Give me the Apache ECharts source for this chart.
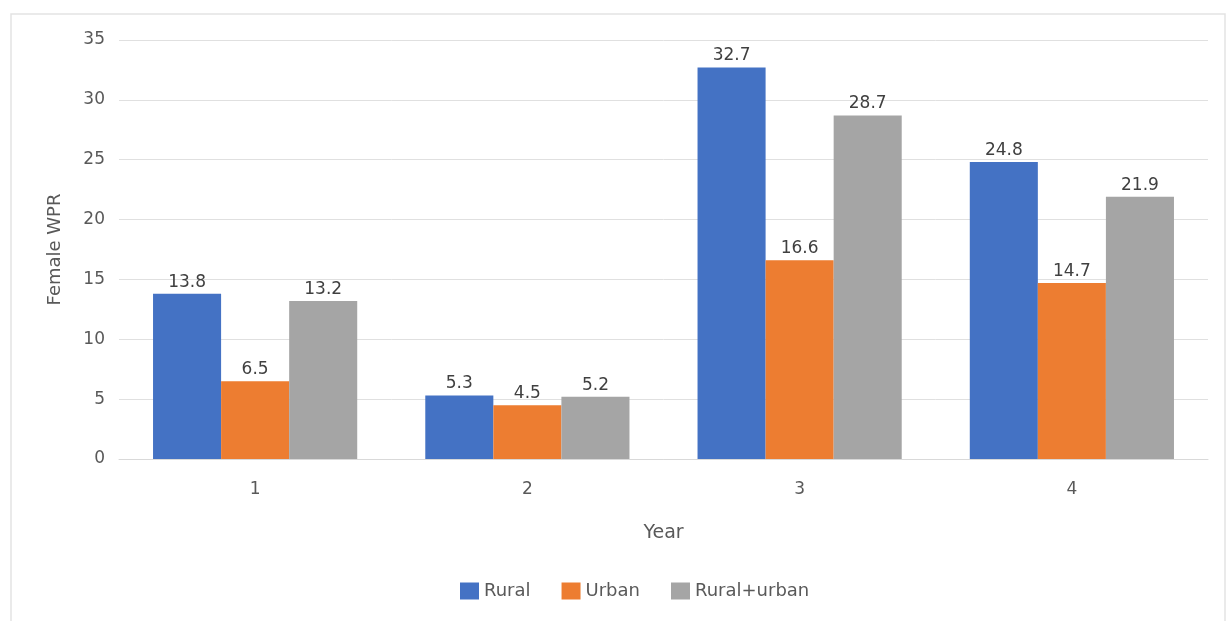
<!DOCTYPE html>
<html>
<head>
<meta charset="utf-8">
<script src="https://cdn.jsdelivr.net/npm/echarts@6/dist/echarts.min.js"></script>
<style>
  html, body { margin: 0; padding: 0; background: #fff; }
  #chart { width: 1227px; height: 621px; filter: blur(0.4px); }
</style>
</head>
<body>
<div id="chart"></div>
<script>
// Female worker population ratio by year
const years = ['1', '2', '3', '4'];
const rural = [13.8, 5.3, 32.7, 24.8];
const urban = [6.5, 4.5, 16.6, 14.7];
const ruralUrban = [13.2, 5.2, 28.7, 21.9];
const yTicks = { min: 0, max: 35, interval: 5 };

const FONT = '"DejaVu Sans", "Open Sans", sans-serif';
const TEXT = '#595959';

function barSeries(name, data, color) {
  return {
    name: name,
    type: 'bar',
    data: data,
    barGap: '0%',
    barCategoryGap: '25%',
    itemStyle: { color: color },
    label: {
      show: true,
      position: 'top',
      distance: 3,
      color: '#404040',
      fontFamily: FONT,
      fontSize: 17
    }
  };
}

const chart = echarts.init(document.getElementById('chart'));
chart.setOption({
  animation: false,
  backgroundColor: '#fff',
  textStyle: { fontFamily: FONT },
  graphic: [{
    type: 'rect',
    shape: { x: 11, y: 14, width: 1214, height: 640 },
    style: { fill: 'none', stroke: '#e3e3e3', lineWidth: 1.5 },
    silent: true,
    z: -1
  }],
  grid: { left: 119, right: 19, top: 40, bottom: 162, containLabel: false },
  legend: {
    left: 455,
    top: 577,
    itemWidth: 19,
    itemHeight: 17,
    itemGap: 31,
    icon: 'rect',
    textStyle: { color: TEXT, fontSize: 18, fontFamily: FONT },
    data: ['Rural', 'Urban', 'Rural+urban']
  },
  xAxis: {
    type: 'category',
    data: years,
    name: 'Year',
    nameLocation: 'middle',
    nameGap: 65,
    nameTextStyle: { color: TEXT, fontSize: 19, fontFamily: FONT },
    axisLine: { lineStyle: { color: '#d9d9d9', width: 1 } },
    axisTick: { show: false },
    axisLabel: { color: TEXT, fontSize: 17, margin: 22, fontFamily: FONT }
  },
  yAxis: {
    type: 'value',
    min: yTicks.min,
    max: yTicks.max,
    interval: yTicks.interval,
    name: 'Female WPR',
    nameLocation: 'middle',
    nameGap: 55,
    nameTextStyle: { color: TEXT, fontSize: 18, fontFamily: FONT },
    axisLine: { show: false },
    axisTick: { show: false },
    axisLabel: { color: TEXT, fontSize: 17, margin: 14, fontFamily: FONT },
    splitLine: { lineStyle: { color: '#e0e0e0', width: 1 } }
  },
  series: [
    barSeries('Rural', rural, '#4472C4'),
    barSeries('Urban', urban, '#ED7D31'),
    barSeries('Rural+urban', ruralUrban, '#A5A5A5')
  ]
});
</script>
</body>
</html>
